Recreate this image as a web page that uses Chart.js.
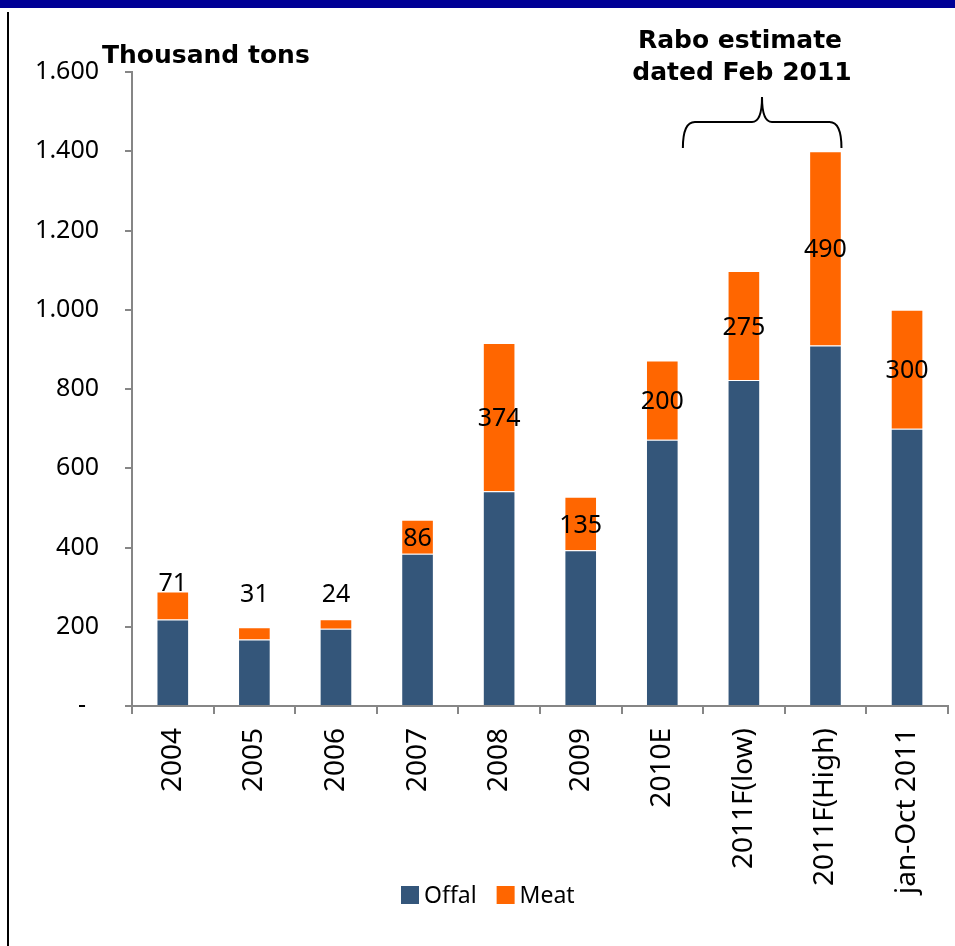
<!DOCTYPE html>
<html lang="en">
<head>
    <meta charset="UTF-8">
    <title>Thousand tons</title>
    <script src="https://cdn.jsdelivr.net/npm/chart.js"></script>
    <style>
        html, body { margin: 0; padding: 0; background: #fff; }
        canvas { display: block; }
    </style>
</head>
<body>
    <canvas id="tonsChart" width="955" height="946"></canvas>

    <script>
        // data
        let categories = ["2004", "2005", "2006", "2007", "2008", "2009", "2010E", "2011F(low)", "2011F(High)", "jan-Oct 2011"];
        let offal = [218, 168, 195, 384, 542, 393, 672, 823, 910, 700];
        let meat = [71, 31, 24, 86, 374, 135, 200, 275, 490, 300];
        let yTicks = [0, 200, 400, 600, 800, 1000, 1200, 1400, 1600];

        const labelFont = "'Noto Sans', sans-serif";
        const titleFont = "bold 25px 'DejaVu Sans', sans-serif";

        function formatTick(v) {
            if (v === 0) return "-\u00a0\u00a0";
            return String(v).replace(/\B(?=(\d{3})+(?!\d))/g, ".");
        }

        // frame, titles, brace and the legend (it sits beside the long rotated labels)
        const decorations = {
            id: "decorations",
            beforeDraw(chart) {
                let ctx = chart.ctx;
                ctx.save();
                ctx.fillStyle = "#000096";
                ctx.fillRect(0, 0, chart.width, 8);
                ctx.fillStyle = "#000";
                ctx.fillRect(7, 12, 2, chart.height - 12);
                ctx.restore();
            },
            afterDraw(chart) {
                let ctx = chart.ctx;
                let x = chart.scales.x;
                ctx.save();
                ctx.fillStyle = "#000";
                ctx.font = titleFont;
                ctx.textAlign = "left";
                ctx.textBaseline = "alphabetic";
                ctx.fillText("Thousand tons", 102, 63);

                ctx.textAlign = "center";
                ctx.fillText("Rabo estimate", 740, 48);
                ctx.fillText("dated Feb 2011", 742, 80);

                // brace
                let left = x.getPixelForValue(7) - 61;
                let right = x.getPixelForValue(8) + 16;
                let mid = 762, yb = 122, yTop = 97, yEnd = 148;
                ctx.strokeStyle = "#000";
                ctx.lineWidth = 2;
                ctx.beginPath();
                ctx.moveTo(left, yEnd);
                ctx.quadraticCurveTo(left, yb, left + 12, yb);
                ctx.lineTo(mid - 10, yb);
                ctx.quadraticCurveTo(mid, yb, mid, yTop);
                ctx.quadraticCurveTo(mid, yb, mid + 10, yb);
                ctx.lineTo(right - 12, yb);
                ctx.quadraticCurveTo(right, yb, right, yEnd);
                ctx.stroke();

                // legend
                ctx.font = "23px " + labelFont;
                ctx.textAlign = "left";
                ctx.textBaseline = "middle";
                let lx = 401, ly = 895;
                chart.data.datasets.forEach(ds => {
                    ctx.fillStyle = ds.backgroundColor;
                    ctx.fillRect(lx, ly - 9, 18, 18);
                    ctx.fillStyle = "#000";
                    ctx.fillText(ds.label, lx + 23, ly + 1);
                    lx += 23 + ctx.measureText(ds.label).width + 20;
                });
                ctx.restore();
            }
        };

        // value labels on the meat segments
        const meatLabels = {
            id: "meatLabels",
            afterDatasetsDraw(chart) {
                let ctx = chart.ctx;
                let y = chart.scales.y;
                let meta = chart.getDatasetMeta(1);
                ctx.save();
                ctx.fillStyle = "#000";
                ctx.font = "25px " + labelFont;
                ctx.textAlign = "center";
                ctx.textBaseline = "middle";
                meta.data.forEach((bar, i) => {
                    let top = y.getPixelForValue(offal[i] + meat[i]);
                    let bottom = y.getPixelForValue(offal[i]);
                    let py = (top + bottom) / 2 + 2;
                    if (bottom - top < 30) {
                        py = y.getPixelForValue(Math.max(offal[i] + meat[i] + 20, 280));
                    }
                    ctx.fillText(meat[i], bar.x, py);
                });
                ctx.restore();
            }
        };

        new Chart(document.getElementById("tonsChart"), {
            type: "bar",
            data: {
                labels: categories,
                datasets: [{
                    label: "Offal",
                    data: offal,
                    backgroundColor: "#34567A",
                    borderColor: "rgba(255,255,255,0.35)",
                    borderWidth: 1
                }, {
                    label: "Meat",
                    data: meat,
                    backgroundColor: "#FF6600",
                    borderColor: "rgba(255,255,255,0.35)",
                    borderWidth: 1
                }]
            },
            options: {
                responsive: false,
                animation: false,
                events: [],
                categoryPercentage: 1,
                barPercentage: 0.4,
                layout: { padding: { top: 72, right: 7, left: 0, bottom: 30 } },
                plugins: {
                    legend: { display: false },
                    tooltip: { enabled: false }
                },
                scales: {
                    x: {
                        stacked: true,
                        afterFit(scale) { scale.height = 210; },
                        border: { color: "#868686", width: 2 },
                        grid: {
                            drawOnChartArea: false,
                            drawTicks: true,
                            tickLength: 8,
                            offset: true,
                            color: "#868686",
                            lineWidth: 2
                        },
                        ticks: {
                            color: "#000",
                            font: { family: labelFont, size: 28 },
                            maxRotation: 90,
                            minRotation: 90,
                            padding: 14,
                            autoSkip: false
                        }
                    },
                    y: {
                        stacked: true,
                        min: 0,
                        max: 1600,
                        afterFit(scale) { scale.width = 132; },
                        afterBuildTicks(scale) {
                            scale.ticks = yTicks.map(v => ({ value: v }));
                        },
                        border: { color: "#868686", width: 2 },
                        grid: {
                            drawOnChartArea: false,
                            drawTicks: true,
                            tickLength: 7,
                            color: "#868686",
                            lineWidth: 2
                        },
                        ticks: {
                            color: "#000",
                            font: { family: labelFont, size: 25 },
                            padding: 26,
                            callback: v => formatTick(v)
                        }
                    }
                }
            },
            plugins: [decorations, meatLabels]
        });
    </script>
</body>
</html>
